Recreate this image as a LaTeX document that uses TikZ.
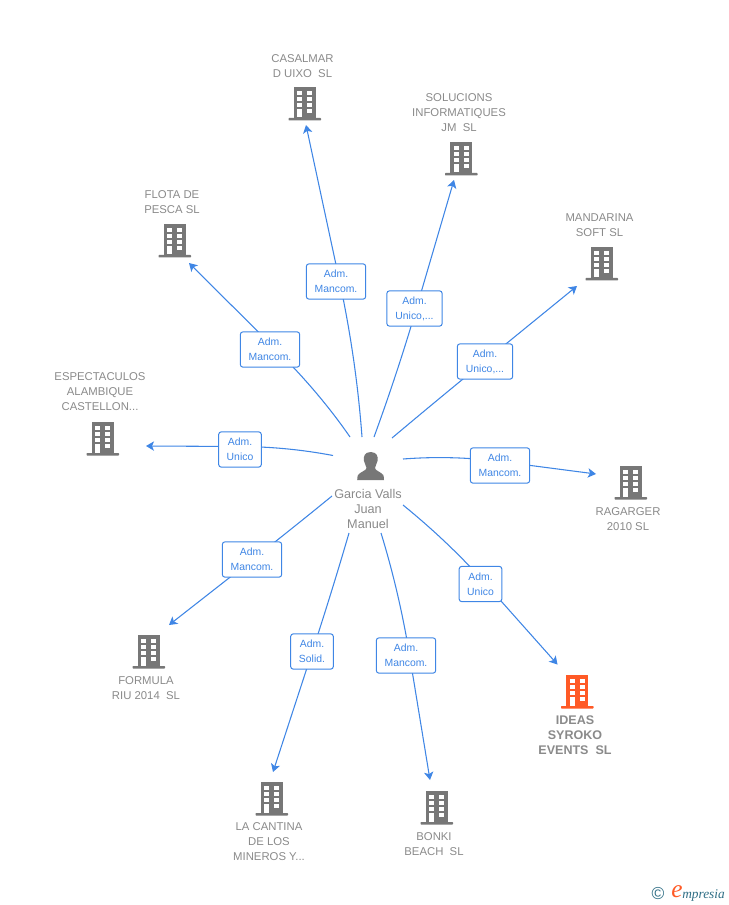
\documentclass[tikz,border=0pt]{standalone}
\usepackage{fontspec}
\setmainfont{Liberation Sans}
\newfontfamily\logofont{Liberation Serif}
\usetikzlibrary{arrows.meta,backgrounds,calc}
\definecolor{gb}{HTML}{777777}
\definecolor{ot}{HTML}{8A8A8A}
\definecolor{lb}{HTML}{3F86E5}
\definecolor{og}{HTML}{FF5A26}
\definecolor{teal1}{HTML}{2F6E85}
\tikzset{
  x=0.75pt,y=-0.75pt,
  txt/.style={text=ot,font=\fontsize{8.5}{11.2}\selectfont,align=center,inner sep=0pt},
  boldtxt/.style={txt,font=\fontsize{9.4}{11.2}\selectfont\bfseries},
  role/.style={draw=lb,line width=0.75pt,fill=white,rounded corners=2pt,text=lb,font=\fontsize{7.8}{11.2}\selectfont,align=center,minimum width=44.5pt,minimum height=26.5pt,inner sep=0pt},
  link/.style={lb,line width=0.8pt,-{Stealth[length=6pt,width=7pt,inset=1.5pt]}},
  pics/bld/.style={code={
    \fill[#1] (-10.5,-16) rectangle (11.5,15);
    \fill[#1,rounded corners=0.5pt] (-15.5,15) rectangle (17,17.5);
    \foreach \yy in {-12,-6,0,6}{
      \fill[white] (-7,\yy) rectangle (-2,{\yy+4.2});
      \fill[white] (3,\yy) rectangle (8,{\yy+4.2});
    }
    \fill[white] (-7,6) rectangle (-2,14.5);
  }}
}
\newcommand{\lnk}[3]{\coordinate (cc) at ($(#2)!-0.5!(#3)$);
  \draw[link] (#1) .. controls ($(#1)!0.667!(cc)$) and ($(#2)!0.667!(cc)$) .. (#2) -- (#3);}
\begin{document}
\begin{tikzpicture}
\useasboundingbox (0,0) rectangle (728,905);
% person
\fill[gb] (370.7,452) .. controls (364.5,452) and (363,457) .. (364,461) .. controls (364.5,464) and (366.5,466) .. (366.5,468) .. controls (366.5,470.5) and (360,472) .. (358,475) .. controls (357.5,476) and (357.3,478) .. (357.2,480) -- (384,480) .. controls (384,478) and (383.8,476) .. (383.3,475) .. controls (381,472) and (375,470.5) .. (375,468) .. controls (375,466) and (377,464) .. (377.5,461) .. controls (378.5,457) and (377,452) .. (370.7,452) -- cycle;
\node[txt,font=\fontsize{9.5}{11.3}\selectfont] (person) at (368,509) {Garcia Valls\\Juan\\Manuel};
% companies
\pic at (304,103) {bld=gb};
\node[txt] (n1) at (302.5,66) {CASALMAR\\D UIXO\ \ SL};
\pic at (460.5,158) {bld=gb};
\node[txt] (n2) at (459,113) {SOLUCIONS\\INFORMATIQUES\\JM\ \ SL};
\pic at (601,263) {bld=gb};
\node[txt] (n3) at (599.5,225) {MANDARINA\\SOFT SL};
\pic at (630,482) {bld=gb};
\node[txt] (n4) at (628,519) {RAGARGER\\2010 SL};
\pic at (576.5,691) {bld=og};
\node[boldtxt] (n5) at (575,735) {IDEAS\\SYROKO\\EVENTS\ \ SL};
\pic at (436,807) {bld=gb};
\node[txt] (n6) at (434,844) {BONKI\\BEACH\ \ SL};
\pic at (271,798) {bld=gb};
\node[txt] (n7) at (269,842) {LA CANTINA\\DE LOS\\MINEROS Y...};
\pic at (148,651) {bld=gb};
\node[txt] (n8) at (146,688) {FORMULA\\RIU 2014\ \ SL};
\pic at (102,438) {bld=gb};
\node[txt] (n9) at (100,392) {ESPECTACULOS\\ALAMBIQUE\\CASTELLON...};
\pic at (174,240) {bld=gb};
\node[txt] (n10) at (172,202) {FLOTA DE\\PESCA SL};
% labels
\node[role] (l1) at (336,281.5) {Adm.\\Mancom.};
\node[role,minimum width=41.5pt] (l2) at (414.5,308.5) {Adm.\\Unico,...};
\node[role,minimum width=41.5pt] (l3) at (485,361.5) {Adm.\\Unico,...};
\node[role] (l4) at (500,465.5) {Adm.\\Mancom.};
\node[role,minimum width=32pt] (l5) at (480.5,584) {Adm.\\Unico};
\node[role] (l6) at (406,655.5) {Adm.\\Mancom.};
\node[role,minimum width=32pt] (l7) at (312,651.5) {Adm.\\Solid.};
\node[role] (l8) at (252,559.5) {Adm.\\Mancom.};
\node[role,minimum width=32pt] (l9) at (240,449.5) {Adm.\\Unico};
\node[role] (l10) at (270,349.5) {Adm.\\Mancom.};
% connector ends and the points where each connector runs behind its label
\coordinate (s1) at (362,437); \coordinate (m1) at (339.5,281); \coordinate (e1) at (306,125);
\coordinate (s2) at (374,437); \coordinate (m2) at (416.5,308); \coordinate (e2) at (454,180);
\coordinate (s3) at (392,438); \coordinate (m3) at (485,361); \coordinate (e3) at (577,286);
\coordinate (s4) at (403,459); \coordinate (m4) at (500,461.5); \coordinate (e4) at (596,474);
\coordinate (s5) at (403,505); \coordinate (m5) at (485,583); \coordinate (e5) at (557.5,664.5);
\coordinate (s6) at (381,533); \coordinate (m6) at (409.5,655); \coordinate (e6) at (430,780);
\coordinate (s7) at (349,533); \coordinate (m7) at (312.5,651); \coordinate (e7) at (273,772);
\coordinate (s8) at (332,496); \coordinate (m8) at (252,560); \coordinate (e8) at (169,625);
\coordinate (s9) at (333,455.5); \coordinate (m9) at (240,446.5); \coordinate (e9) at (146,446);
\coordinate (s10) at (350,437); \coordinate (m10) at (276,349.5); \coordinate (e10) at (189,263);
\begin{scope}[on background layer]
\foreach \i in {1,...,10}{\lnk{s\i}{m\i}{e\i}}
\end{scope}
% logo
\node[text=teal1,inner sep=0pt,font=\fontsize{13}{13}\selectfont] (copy) at (658,894) {©};
\node[text=og,inner sep=0pt,font=\fontsize{19}{19}\logofont\itshape] (logoe) at (677,892) {e};
\node[text=teal1,inner sep=0pt,anchor=west,font=\fontsize{10}{10}\logofont\itshape] (logot) at (682,895) {mpresia};
\end{tikzpicture}
\end{document}
